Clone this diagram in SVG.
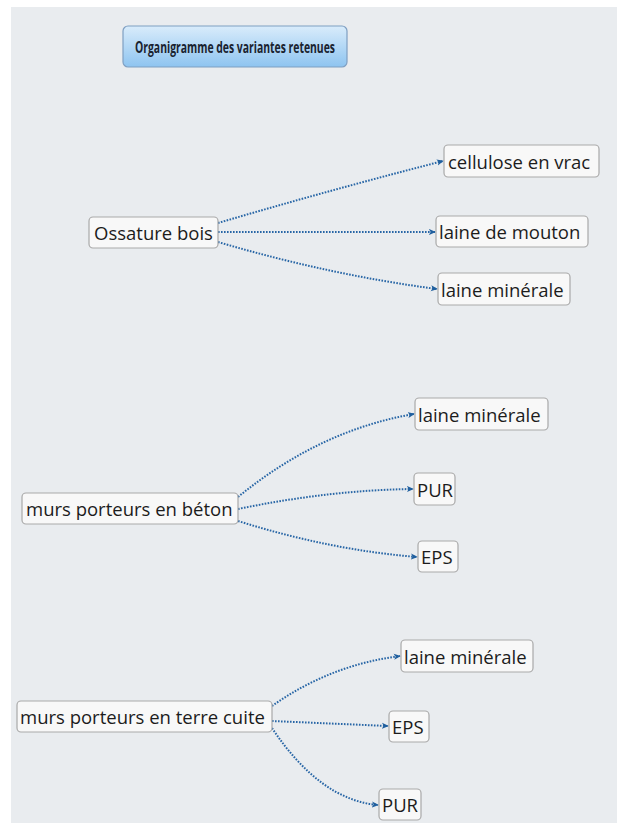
<svg xmlns="http://www.w3.org/2000/svg" width="617" height="823" viewBox="0 0 617 823">
<defs>
<linearGradient id="tg" x1="0" y1="0" x2="0" y2="1">
<stop offset="0" stop-color="#d9ecfb"/>
<stop offset="1" stop-color="#8ec4f0"/>
</linearGradient>
<marker id="ah" viewBox="0 0 8 8" refX="7" refY="4" markerWidth="7" markerHeight="7" markerUnits="userSpaceOnUse" orient="auto">
<path d="M0,0.5 L8,4 L0,7.5 L2,4 Z" fill="#1f5f9e"/>
</marker>
</defs>
<style>
.node rect{fill:#f8f8f8;stroke:#a9a9a9;stroke-width:1.2}
.node text{font-family:"Open Sans","Noto Sans",sans-serif;font-size:18.5px;fill:#1c1c1c;dominant-baseline:central}
.conn path{fill:none;stroke:#2866a6;stroke-width:2;stroke-dasharray:1.6 1.4;marker-end:url(#ah)}
</style>
<rect x="0" y="0" width="617" height="823" fill="#ffffff"/>
<rect x="11" y="7" width="606" height="816" fill="#e9ecef"/>
<g id="title">
<rect x="123" y="26" width="224" height="41" rx="5" fill="url(#tg)" stroke="#7f9fc2" stroke-width="1.2"/>
<text x="235" y="46.5" text-anchor="middle" textLength="200" lengthAdjust="spacingAndGlyphs" style="font-family:'Open Sans','Noto Sans',sans-serif;font-size:16px;font-weight:bold;fill:#1a2330;dominant-baseline:central">Organigramme des variantes retenues</text>
</g>
<g class="conn" id="connectors">
<path d="M218,223 Q330,190 443,161"/>
<path d="M218,232 L435,232"/>
<path d="M218,242 Q330,275 437,289"/>
<path d="M238,497 Q320,430 414,414"/>
<path d="M238,509 Q330,490 413,489"/>
<path d="M238,521 Q330,550 417,557"/>
<path d="M272,706 Q330,665 400,656"/>
<path d="M272,721 L388,726"/>
<path d="M272,728 Q320,800 378,805"/>
</g>
<g class="node" id="n-ossature"><rect x="89" y="217" width="129" height="31" rx="4"/><text x="94" y="232.5">Ossature bois</text></g>
<g class="node" id="n-cellulose"><rect x="444" y="145" width="155" height="32" rx="4"/><text x="448" y="161">cellulose en vrac</text></g>
<g class="node" id="n-laine-mouton"><rect x="436" y="216" width="152" height="31" rx="4"/><text x="439" y="231.5">laine de mouton</text></g>
<g class="node" id="n-laine-min1"><rect x="438" y="273" width="132" height="32" rx="4"/><text x="441" y="289">laine minérale</text></g>
<g class="node" id="n-beton"><rect x="22" y="493" width="216" height="31" rx="4"/><text x="26" y="508.5">murs porteurs en béton</text></g>
<g class="node" id="n-laine-min2"><rect x="415" y="398" width="133" height="32" rx="4"/><text x="418" y="414">laine minérale</text></g>
<g class="node" id="n-pur1"><rect x="414" y="473" width="41" height="32" rx="4"/><text x="417" y="489">PUR</text></g>
<g class="node" id="n-eps1"><rect x="418" y="541" width="40" height="31" rx="4"/><text x="421" y="556.5">EPS</text></g>
<g class="node" id="n-terre"><rect x="17" y="701" width="255" height="31" rx="4"/><text x="20" y="716.5">murs porteurs en terre cuite</text></g>
<g class="node" id="n-laine-min3"><rect x="401" y="640" width="132" height="32" rx="4"/><text x="404" y="656">laine minérale</text></g>
<g class="node" id="n-eps2"><rect x="389" y="711" width="40" height="31" rx="4"/><text x="392" y="726.5">EPS</text></g>
<g class="node" id="n-pur2"><rect x="379" y="789" width="42" height="31" rx="4"/><text x="382" y="804.5">PUR</text></g>
</svg>
